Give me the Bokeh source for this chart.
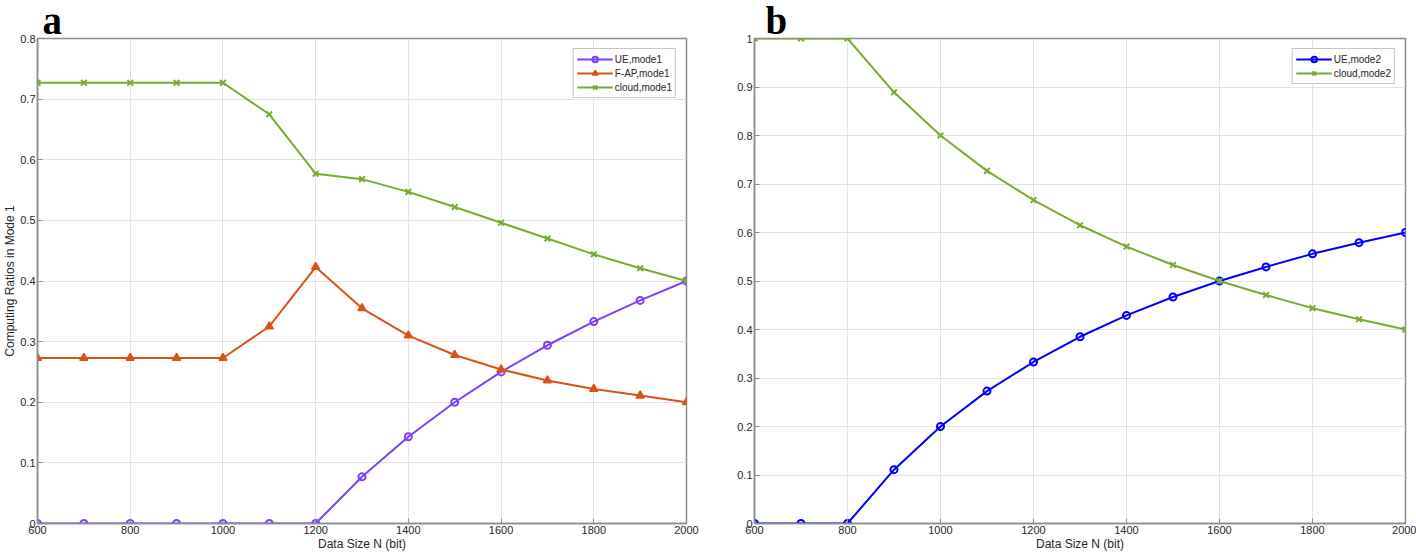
from bokeh.plotting import figure
from bokeh.layouts import row
from bokeh.models import FixedTicker, CustomJSTickFormatter, Range1d, Legend, Title
from bokeh.embed import file_html
from bokeh.resources import INLINE

data_size = [600, 700, 800, 900, 1000, 1100, 1200, 1300, 1400, 1500, 1600, 1700, 1800, 1900, 2000]

ue_mode1 = [0, 0, 0, 0, 0, 0, 0, 0.077, 0.143, 0.2, 0.25, 0.294, 0.333, 0.368, 0.4]
fap_mode1 = [0.273, 0.273, 0.273, 0.273, 0.273, 0.325, 0.423, 0.355, 0.31, 0.278, 0.254, 0.236, 0.222, 0.211, 0.2]
cloud_mode1 = [0.727, 0.727, 0.727, 0.727, 0.727, 0.675, 0.577, 0.568, 0.547, 0.522, 0.496, 0.47, 0.444, 0.421, 0.4]

ue_mode2 = [0, 0, 0, 0.111, 0.2, 0.273, 0.333, 0.385, 0.429, 0.467, 0.5, 0.529, 0.556, 0.579, 0.6]
cloud_mode2 = [1, 1, 1, 0.889, 0.8, 0.727, 0.667, 0.615, 0.571, 0.533, 0.5, 0.471, 0.444, 0.421, 0.4]

x_ticks = [600, 800, 1000, 1200, 1400, 1600, 1800, 2000]
y_ticks_a = [0, 0.1, 0.2, 0.3, 0.4, 0.5, 0.6, 0.7, 0.8]
y_ticks_b = [0, 0.1, 0.2, 0.3, 0.4, 0.5, 0.6, 0.7, 0.8, 0.9, 1.0]

FONT = "Liberation Sans"
AX_COL = "#8c8c8c"
TXT_COL = "#262626"
fmt = CustomJSTickFormatter(code="return (Math.round(tick*10)/10).toString();")


def make_fig(width, ymax, yticks, border_left, border_right, ylabel, letter, letter_offset):
    p = figure(width=width, height=557, output_backend="svg", toolbar_location=None,
               x_range=Range1d(600, 2000), y_range=Range1d(0, ymax),
               min_border_left=border_left, min_border_right=border_right,
               min_border_top=38, min_border_bottom=34)
    p.title = Title(text=letter, align="left", offset=letter_offset,
                    text_font="Liberation Serif", text_font_style="bold",
                    text_font_size="39px", text_color="black",
                    text_line_height=0.8, standoff=-7)
    p.outline_line_color = AX_COL
    p.outline_line_width = 1.5
    for ax in (p.xaxis[0], p.yaxis[0]):
        ax.axis_line_color = AX_COL
        ax.axis_line_width = 1.5
        ax.major_tick_line_color = AX_COL
        ax.major_tick_in = 5
        ax.major_tick_out = 0
        ax.minor_tick_line_color = None
        ax.major_label_text_font = FONT
        ax.major_label_text_font_size = "11px"
        ax.major_label_text_color = TXT_COL
        ax.major_label_standoff = 2
        ax.axis_label_text_font = FONT
        ax.axis_label_text_font_size = "12px"
        ax.axis_label_text_font_style = "normal"
        ax.axis_label_text_color = TXT_COL
        ax.axis_label_standoff = 0
    p.xaxis[0].ticker = FixedTicker(ticks=x_ticks)
    p.yaxis[0].ticker = FixedTicker(ticks=yticks)
    p.yaxis[0].formatter = fmt
    p.xaxis[0].axis_label = "Data Size N (bit)"
    if ylabel:
        p.yaxis[0].axis_label = ylabel
    p.xgrid.ticker = FixedTicker(ticks=x_ticks)
    p.ygrid.ticker = FixedTicker(ticks=yticks)
    p.xgrid.grid_line_color = "#e3e3e3"
    p.ygrid.grid_line_color = "#e3e3e3"
    p.background_fill_color = "white"
    return p


PURPLE = "#7f3fff"
ORANGE = "#d95319"
GREEN = "#77ac30"
BLUE = "#0000ff"

# Panel a
pa = make_fig(720, 0.8, y_ticks_a, 35, 34, "Computing Ratios in Mode 1", "a", 5)
la1 = pa.line(data_size, ue_mode1, line_color=PURPLE, line_width=2)
sa1 = pa.scatter(data_size, ue_mode1, marker="circle", size=7, line_color=PURPLE, fill_color=None, line_width=2)
la2 = pa.line(data_size, fap_mode1, line_color=ORANGE, line_width=2)
sa2 = pa.scatter(data_size, fap_mode1, marker="triangle", size=8, line_color=ORANGE, fill_color=ORANGE, line_width=1.5)
la3 = pa.line(data_size, cloud_mode1, line_color=GREEN, line_width=2)
sa3 = pa.scatter(data_size, cloud_mode1, marker="x", size=8, line_color=GREEN, line_width=2)

leg_a = Legend(items=[("UE,mode1", [la1, sa1]), ("F-AP,mode1", [la2, sa2]), ("cloud,mode1", [la3, sa3])],
               location="top_right")
pa.add_layout(leg_a)

# Panel b
pb = make_fig(696, 1.0, y_ticks_b, 34, 11, None, "b", 11)
lb1 = pb.line(data_size, ue_mode2, line_color=BLUE, line_width=2)
sb1 = pb.scatter(data_size, ue_mode2, marker="circle", size=7, line_color=BLUE, fill_color=None, line_width=2)
lb2 = pb.line(data_size, cloud_mode2, line_color=GREEN, line_width=2)
sb2 = pb.scatter(data_size, cloud_mode2, marker="x", size=8, line_color=GREEN, line_width=2)
leg_b = Legend(items=[("UE,mode2", [lb1, sb1]), ("cloud,mode2", [lb2, sb2])], location="top_right")
pb.add_layout(leg_b)

for p, lg in ((pa, leg_a), (pb, leg_b)):
    lg.label_text_font = FONT
    lg.label_text_font_size = "10px"
    lg.label_text_color = TXT_COL
    lg.label_height = 14
    lg.glyph_height = 14
    lg.glyph_width = 36
    lg.spacing = 0
    lg.padding = 3
    lg.margin = 10
    lg.label_standoff = 2
    lg.border_line_color = "#8c8c8c"
    lg.border_line_width = 1
    lg.background_fill_alpha = 1.0

layout = row(pa, pb)
open("out.html", "w").write(file_html(layout, INLINE))
